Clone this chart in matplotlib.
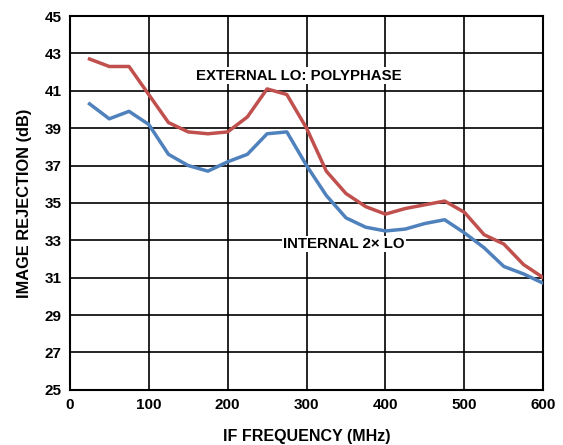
import matplotlib.pyplot as plt

# IF frequency (MHz)
freq = [25, 50, 75, 100, 125, 150, 175, 200, 225, 250, 275, 300,
        325, 350, 375, 400, 425, 450, 475, 500, 525, 550, 575, 600]

# image rejection (dB), external LO polyphase
ext_lo = [42.7, 42.3, 42.3, 40.8, 39.3, 38.8, 38.7, 38.8, 39.6, 41.1, 40.8, 39.0,
          36.7, 35.5, 34.8, 34.4, 34.7, 34.9, 35.1, 34.5, 33.3, 32.8, 31.7, 31.0]

# image rejection (dB), internal 2x LO
int_lo = [40.3, 39.5, 39.9, 39.2, 37.6, 37.0, 36.7, 37.2, 37.6, 38.7, 38.8, 37.0,
          35.4, 34.2, 33.7, 33.5, 33.6, 33.9, 34.1, 33.4, 32.6, 31.6, 31.2, 30.7]

xticks = [0, 100, 200, 300, 400, 500, 600]
yticks = [25, 27, 29, 31, 33, 35, 37, 39, 41, 43, 45]

plt.rcParams['font.family'] = ['Liberation Sans', 'DejaVu Sans']
plt.rcParams['font.weight'] = 'bold'

fig = plt.figure(figsize=(5.63, 4.45), dpi=100)
ax = fig.add_axes([0.124, 0.124, 0.841, 0.840])

ax.plot(freq, ext_lo, color='#c0504d', linewidth=2.5, zorder=3)
ax.plot(freq, int_lo, color='#4f81bd', linewidth=2.5, zorder=3)

ax.set_xlim(0, 600)
ax.set_ylim(25, 45)
ax.set_xticks(xticks)
ax.set_yticks(yticks)
ax.tick_params(length=0, labelsize=11, pad=6)
for lab in ax.get_xticklabels() + ax.get_yticklabels():
    lab.set_fontweight('bold')
ax.grid(True, color='black', linewidth=1.2)
for s in ax.spines.values():
    s.set_linewidth(1.5)

ax.text(290, 41.8, 'EXTERNAL LO: POLYPHASE', fontsize=10.8, fontweight='bold',
        ha='center', va='center', zorder=4,
        bbox=dict(facecolor='white', edgecolor='none', pad=1))
ax.text(347, 32.8, 'INTERNAL 2\u00d7 LO', fontsize=10.8, fontweight='bold',
        ha='center', va='center', zorder=4,
        bbox=dict(facecolor='white', edgecolor='none', pad=1))

ax.set_xlabel('IF FREQUENCY (MHz)', fontsize=11.5, fontweight='bold', labelpad=12)
ax.set_ylabel('IMAGE REJECTION (dB)', fontsize=11.8, fontweight='bold', labelpad=9)

fig.savefig('out.png', dpi=100)
